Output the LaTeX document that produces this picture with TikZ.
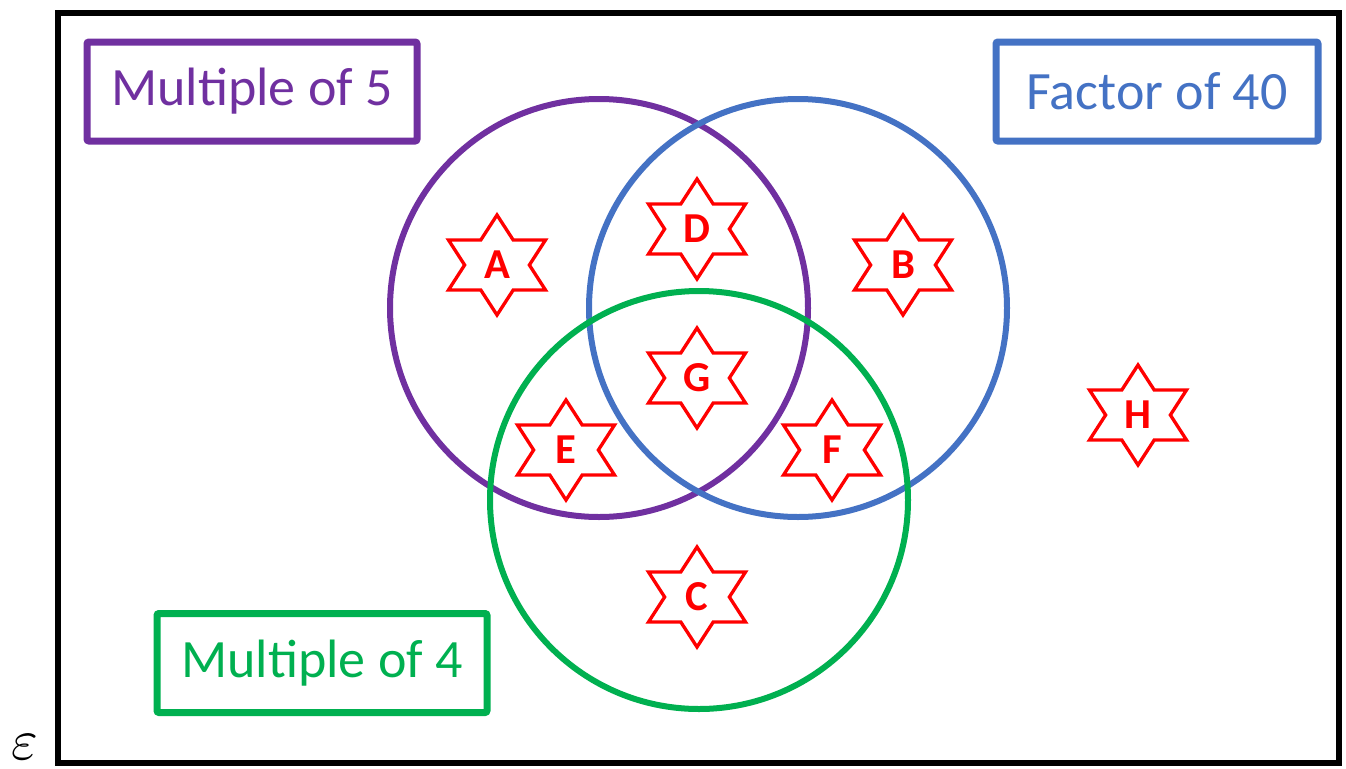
\documentclass[tikz,border=0pt]{standalone}
\usepackage{fontspec}
\setmainfont{Carlito}
\usetikzlibrary{shapes.geometric}

\definecolor{setpurple}{HTML}{7030A0}
\definecolor{setblue}{HTML}{4472C4}
\definecolor{setgreen}{HTML}{00B050}

\tikzset{
    setcircle/.style={draw=#1, circle, line width=4.5pt, minimum size=313.5pt, inner sep=0pt},
    setlabel/.style={draw=#1, text=#1, line width=5.25pt, rounded corners=1.5pt,
        minimum width=247.5pt, minimum height=74.25pt, inner sep=0pt,
        font=\fontsize{40.5}{49}\selectfont},
    element/.style={text=red, inner sep=0pt, font=\bfseries\fontsize{32}{38}\selectfont},
    starline/.style={draw=red, line width=2.5pt, line join=miter}
}

% six pointed star round a named letter node
\newcommand{\hexstar}[3]{%
    \node[element] (#1) at (#2) {#3};
    \begin{scope}[shift={(#2)}, xscale=1.12]
        \draw[starline] (90:50) \foreach \k in {1,...,11} {-- ({90+30*\k}:{mod(\k,2)==0 ? 50 : 28.9})} -- cycle;
    \end{scope}}

\begin{document}
\begin{tikzpicture}[x=0.75pt, y=-0.75pt]
                \useasboundingbox (0,0) rectangle (1346,768);
                \draw[line width=4.8pt] (58,13) rectangle (1339,763);
                \node[scale=4.3, inner sep=0pt] (eps) at (25,747) {$\varepsilon$};

                \node[setcircle=setpurple] (five) at (599,308) {};
                \node[setcircle=setblue] (forty) at (798,308) {};
                \node[setcircle=setgreen] (four) at (699,500) {};

                \node[setlabel=setpurple] (fivelabel) at (252,91.5) {Multiple of 5};
                \node[setlabel=setblue, minimum width=241.5pt] (fortylabel) at (1157,91.5) {Factor of 40};
                \node[setlabel=setgreen] (fourlabel) at (322,663) {Multiple of 4};

                \hexstar{A}{497,265}{A}
                \hexstar{D}{697,229}{D}
                \hexstar{B}{903,265}{B}
                \hexstar{G}{697,378}{G}
                \hexstar{E}{566,450}{E}
                \hexstar{F}{832,450}{F}
                \hexstar{C}{697,597}{C}
                \hexstar{H}{1138,415}{H}
            \end{tikzpicture}
\end{document}
